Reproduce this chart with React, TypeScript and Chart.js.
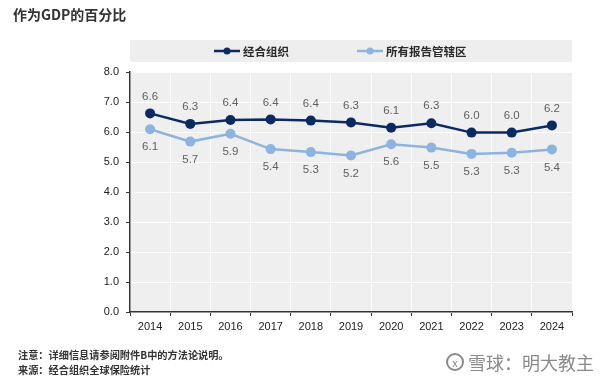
import React, { useEffect, useRef } from "react";
import { Chart, registerables } from "chart.js";

Chart.register(...registerables);

const years = ["2014", "2015", "2016", "2017", "2018", "2019", "2020", "2021", "2022", "2023", "2024"];
const oecd = [6.62, 6.27, 6.4, 6.42, 6.38, 6.32, 6.14, 6.29, 5.98, 5.98, 6.22];
const allJurisdictions = [6.09, 5.68, 5.94, 5.43, 5.33, 5.22, 5.59, 5.48, 5.27, 5.31, 5.42];
const seriesNames = ["经合组织", "所有报告管辖区"];
const yTicks = [0, 1, 2, 3, 4, 5, 6, 7, 8];

const DARK = "#0b2a63";
const LIGHT = "#8db4e0";
const SANS = "'Liberation Sans', Arial, sans-serif";
const CJK = "'Noto Sans CJK SC', 'Noto Sans', sans-serif";

const decorPlugin = {
  id: "decor",
  beforeDraw(chart: any) {
    const { ctx, chartArea } = chart;
    ctx.save();
    ctx.fillStyle = "#efefef";
    ctx.fillRect(chartArea.left, chartArea.top, chartArea.right - chartArea.left, chartArea.bottom - chartArea.top);
    // legend band
    ctx.fillStyle = "#eeeeee";
    ctx.fillRect(chartArea.left, 40, chartArea.right - chartArea.left, 22);
    const items = [
      { x: 214, color: DARK, text: seriesNames[0] },
      { x: 357, color: LIGHT, text: seriesNames[1] },
    ];
    const y = 51;
    items.forEach((it) => {
      ctx.strokeStyle = it.color;
      ctx.lineWidth = 2.5;
      ctx.beginPath();
      ctx.moveTo(it.x, y);
      ctx.lineTo(it.x + 26, y);
      ctx.stroke();
      ctx.fillStyle = it.color;
      ctx.beginPath();
      ctx.arc(it.x + 13, y, 3.5, 0, Math.PI * 2);
      ctx.fill();
      ctx.fillStyle = "#2a2a2a";
      ctx.font = `bold 11.5px ${CJK}`;
      ctx.textBaseline = "middle";
      ctx.textAlign = "left";
      ctx.fillText(it.text, it.x + 29, y + 0.5);
    });
    ctx.restore();
  },
  afterDatasetsDraw(chart: any) {
    const { ctx } = chart;
    ctx.save();
    ctx.font = `11.5px ${SANS}`;
    ctx.fillStyle = "#5f5f5f";
    ctx.textAlign = "center";
    ctx.textBaseline = "middle";
    chart.data.datasets.forEach((ds: any, i: number) => {
      const meta = chart.getDatasetMeta(i);
      meta.data.forEach((pt: any, j: number) => {
        const v = ds.data[j] as number;
        const dy = i === 0 ? -17 : 18;
        ctx.fillText(v.toFixed(1), pt.x, pt.y + dy);
      });
    });
    ctx.restore();
  },
};

export default function App() {
  const ref = useRef<HTMLCanvasElement>(null);
  useEffect(() => {
    if (!ref.current) return;
    const chart = new Chart(ref.current, {
      type: "line",
      data: {
        labels: years,
        datasets: [
          {
            label: seriesNames[0],
            data: oecd,
            borderColor: DARK,
            backgroundColor: DARK,
            borderWidth: 2.5,
            pointRadius: 5,
            pointBorderWidth: 0,
            tension: 0,
          },
          {
            label: seriesNames[1],
            data: allJurisdictions,
            borderColor: LIGHT,
            backgroundColor: LIGHT,
            borderWidth: 2.5,
            pointRadius: 5,
            pointBorderWidth: 0,
            tension: 0,
          },
        ],
      },
      options: {
        animation: false,
        responsive: false,
        devicePixelRatio: 1,
        layout: { padding: { left: 0, top: 72, right: 34, bottom: 0 } },
        plugins: { legend: { display: false }, tooltip: { enabled: false } },
        scales: {
          x: {
            offset: true,
            grid: { offset: true, color: "#ffffff", lineWidth: 1, tickColor: "#333", tickLength: 4, drawTicks: true },
            border: { color: "#333", width: 1.5 },
            ticks: { color: "#222", font: { family: SANS, size: 11 }, padding: 4, maxRotation: 0, autoSkip: false },
            afterFit(scale: any) {
              scale.height = 71;
              scale.paddingLeft = 0;
              scale.paddingRight = 0;
            },
          },
          y: {
            min: 0,
            max: 8,
            afterBuildTicks(scale: any) {
              scale.ticks = yTicks.map((v) => ({ value: v }));
            },
            grid: { color: "#ffffff", lineWidth: 1, tickColor: "#333", tickLength: 4 },
            border: { color: "#333", width: 1.5 },
            ticks: {
              color: "#222",
              font: { family: SANS, size: 11 },
              padding: 7,
              callback: (v: any) => Number(v).toFixed(1),
            },
            afterFit(scale: any) {
              scale.width = 130;
              scale.paddingTop = 0;
              scale.paddingBottom = 0;
            },
          },
        },
      },
      plugins: [decorPlugin],
    });
    return () => chart.destroy();
  }, []);

  return (
    <div style={{ position: "absolute", left: 0, top: 0, width: 606, height: 383, background: "#fff", overflow: "hidden" }}>
      <canvas ref={ref} width={606} height={383} style={{ position: "absolute", left: 0, top: 0, width: 606, height: 383 }} />
      <div style={{ position: "absolute", left: 13, top: 5, fontFamily: CJK, fontSize: 14, fontWeight: 700, color: "#333", lineHeight: "18px" }}>
        作为GDP的百分比
      </div>
      <div style={{ position: "absolute", left: 18, top: 348, fontFamily: CJK, fontSize: 10.2, fontWeight: 700, color: "#333", lineHeight: "14.5px" }}>
        <div>注意：详细信息请参阅附件B中的方法论说明。</div>
        <div>来源：经合组织全球保险统计</div>
      </div>
      <div style={{ position: "absolute", left: 446, top: 350, fontFamily: CJK, fontSize: 18, color: "#8a8a8a", lineHeight: "24px", display: "flex", alignItems: "center" }}>
        <span style={{ display: "inline-block", width: 18, height: 18, borderRadius: 9, border: "2px solid #8a8a8a", boxSizing: "border-box", fontSize: 11, lineHeight: "14px", textAlign: "center", marginRight: 4 }}>x</span>
        <span>雪球：明大教主</span>
      </div>
    </div>
  );
}
